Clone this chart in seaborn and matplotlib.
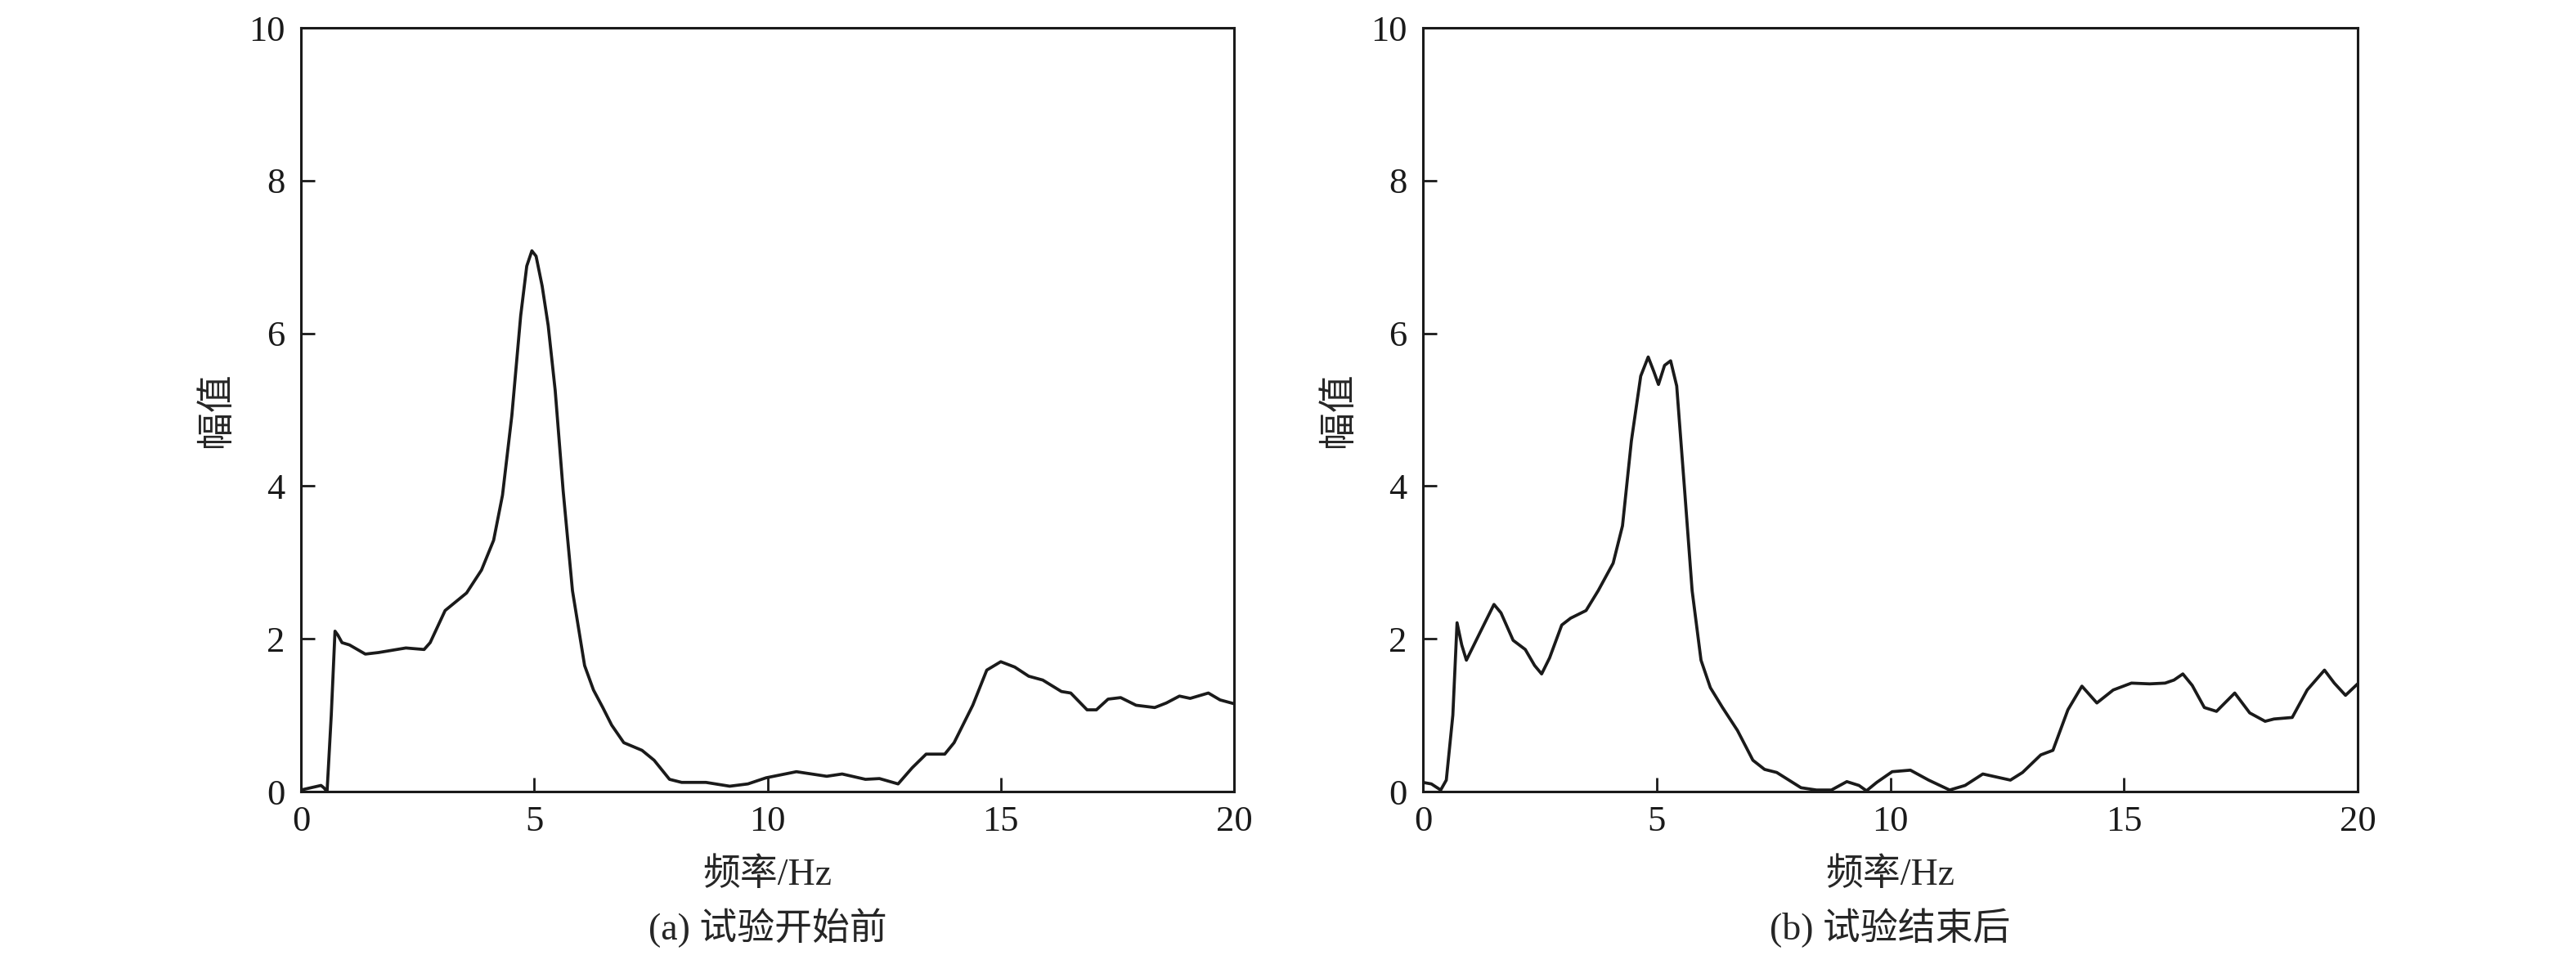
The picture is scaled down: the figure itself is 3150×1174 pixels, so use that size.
import numpy as np
import pandas as pd
import matplotlib
matplotlib.use("Agg")
import matplotlib.pyplot as plt
import seaborn as sns

# ---- data ----
freq_a = [0, 0.43, 0.49, 0.56, 0.65, 0.73, 0.79, 0.88, 1.04, 1.38, 1.66, 2.25, 2.64, 2.77, 3.09, 3.55,
          3.87, 4.13, 4.32, 4.52, 4.71, 4.84, 4.95, 5.04, 5.17, 5.30, 5.45, 5.62, 5.82, 6.08, 6.27,
          6.47, 6.66, 6.92, 7.31, 7.57, 7.90, 8.16, 8.68, 9.19, 9.58, 9.97, 10.62, 11.27, 11.60,
          12.10, 12.40, 12.80, 13.10, 13.40, 13.80, 14.00, 14.40, 14.70, 15.00, 15.30, 15.60, 15.90,
          16.30, 16.50, 16.85, 17.05, 17.30, 17.57, 17.90, 18.30, 18.55, 18.83, 19.06, 19.45, 19.70, 20.0]
amp_a = [0.02, 0.08, 0.05, 0.00, 1.00, 2.10, 2.05, 1.95, 1.92, 1.80, 1.82, 1.88, 1.86, 1.95, 2.37, 2.60,
         2.90, 3.29, 3.88, 4.92, 6.23, 6.88, 7.08, 7.01, 6.62, 6.10, 5.25, 3.94, 2.63, 1.65, 1.33,
         1.10, 0.87, 0.64, 0.54, 0.41, 0.16, 0.12, 0.12, 0.07, 0.10, 0.18, 0.26, 0.20, 0.23,
         0.16, 0.17, 0.10, 0.31, 0.49, 0.49, 0.64, 1.13, 1.59, 1.70, 1.63, 1.51, 1.46,
         1.31, 1.29, 1.07, 1.07, 1.21, 1.23, 1.13, 1.10, 1.16, 1.25, 1.22, 1.29, 1.20, 1.15]

freq_b = [0, 0.18, 0.38, 0.50, 0.64, 0.73, 0.83, 0.93, 1.22, 1.52, 1.67, 1.93, 2.19, 2.39, 2.54, 2.71,
          2.97, 3.16, 3.49, 3.75, 4.07, 4.27, 4.46, 4.66, 4.82, 4.94, 5.04, 5.17, 5.30, 5.43, 5.60,
          5.76, 5.95, 6.15, 6.41, 6.73, 7.06, 7.31, 7.57, 8.09, 8.42, 8.74, 9.07, 9.33, 9.49, 9.71,
          10.04, 10.43, 10.82, 11.27, 11.60, 11.98, 12.57, 12.83, 13.22, 13.48, 13.80, 14.10, 14.42,
          14.77, 15.16, 15.55, 15.88, 16.07, 16.26, 16.46, 16.72, 16.98, 17.37, 17.69, 18.02, 18.21,
          18.60, 18.92, 19.29, 19.50, 19.74, 20.0]
amp_b = [0.12, 0.10, 0.02, 0.15, 1.00, 2.21, 1.92, 1.72, 2.08, 2.45, 2.34, 1.98, 1.86, 1.65, 1.54, 1.75,
         2.18, 2.27, 2.37, 2.63, 2.99, 3.48, 4.59, 5.44, 5.69, 5.50, 5.33, 5.58, 5.64, 5.31, 3.94,
         2.63, 1.72, 1.36, 1.10, 0.80, 0.41, 0.29, 0.25, 0.05, 0.02, 0.02, 0.13, 0.08, 0.01, 0.12,
         0.26, 0.28, 0.15, 0.02, 0.08, 0.23, 0.15, 0.25, 0.48, 0.54, 1.07, 1.38, 1.16,
         1.33, 1.42, 1.41, 1.42, 1.46, 1.54, 1.39, 1.10, 1.05, 1.29, 1.03, 0.92, 0.95,
         0.97, 1.33, 1.59, 1.42, 1.26, 1.41]

x_ticks = [0, 5, 10, 15, 20]
y_ticks = [0, 2, 4, 6, 8, 10]
x_label = "频率/Hz"
y_label = "幅值"
captions = ["(a) 试验开始前", "(b) 试验结束后"]

# ---- style ----
sns.set_style("ticks")
fam = ["Liberation Serif", "Noto Sans CJK SC", "DejaVu Sans"]
plt.rcParams["font.family"] = fam
plt.rcParams["axes.unicode_minus"] = False

fig = plt.figure(figsize=(31.5, 11.74), dpi=100)
ax_pos = [[368 / 3150, 1 - 968 / 1174, (1509 - 368) / 3150, (968 - 34) / 1174],
          [1740 / 3150, 1 - 968 / 1174, (2883 - 1740) / 3150, (968 - 34) / 1174]]

datasets = [pd.DataFrame({"f": freq_a, "a": amp_a}),
            pd.DataFrame({"f": freq_b, "a": amp_b})]

fs = 32
for pos, df, cap in zip(ax_pos, datasets, captions):
    ax = fig.add_axes(pos)
    sns.lineplot(data=df, x="f", y="a", ax=ax, color="#1a1a1a", linewidth=2.7,
                 solid_joinstyle="round", solid_capstyle="round")
    ax.set_xlim(0, 20)
    ax.set_ylim(0, 10)
    ax.set_xticks(x_ticks)
    ax.set_yticks(y_ticks)
    ax.tick_params(direction="in", length=12, width=2, labelsize=fs, colors="#1a1a1a")
    ax.tick_params(axis="x", pad=12)
    ax.tick_params(axis="y", pad=14)
    for s in ax.spines.values():
        s.set_visible(True)
        s.set_linewidth(2.2)
        s.set_color("#1a1a1a")
    ax.set_xlabel(x_label, fontsize=fs + 1, labelpad=18)
    ax.set_ylabel(y_label, fontsize=fs + 1, labelpad=12)
    cx = pos[0] + pos[2] / 2
    fig.text(cx, 1 - 1135 / 1174, cap, ha="center", va="center", fontsize=fs + 1)

fig.savefig("out.png", dpi=100, facecolor="white")
